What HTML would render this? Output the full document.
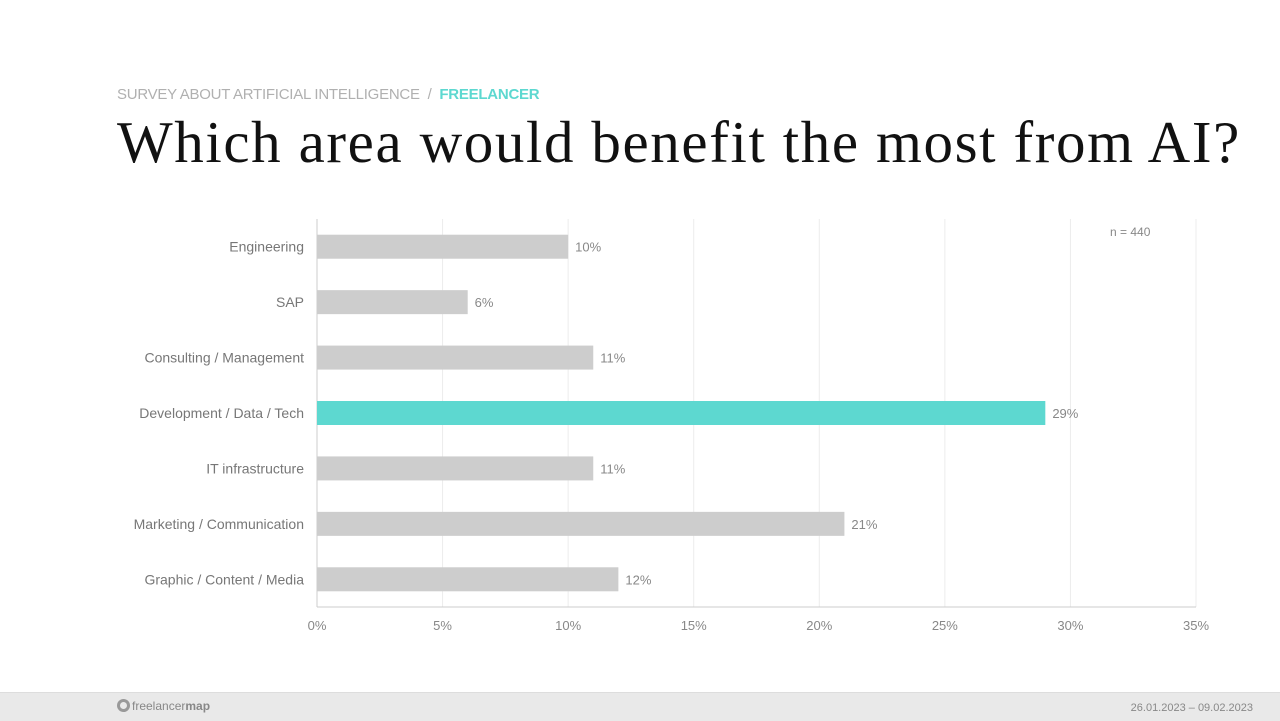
<!DOCTYPE html>
<html><head><meta charset="utf-8"><style>
body{margin:0;width:1280px;height:720px;background:#fff;position:relative;overflow:hidden;font-family:"Liberation Sans",sans-serif}
.sub{position:absolute;left:117px;top:86px;font-size:15px;color:#b0b0b0;letter-spacing:-0.25px}
.sub b{color:#5dd8d0;font-weight:bold}
h1{position:absolute;left:117px;top:108px;margin:0;font-family:"Liberation Serif",serif;font-weight:normal;font-size:59px;color:#111;letter-spacing:1.6px;white-space:nowrap}
.footer{position:absolute;left:0;top:692px;width:1280px;height:28px;background:#e9e9e9;border-top:1px solid #ddd}
</style></head><body>
<div class="sub">SURVEY ABOUT ARTIFICIAL INTELLIGENCE &nbsp;/&nbsp; <b>FREELANCER</b></div>
<h1>Which area would benefit the most from AI?</h1>
<svg id="chart" width="1280" height="720" style="position:absolute;left:0;top:0"></svg>
<div class="footer">
<div style="position:absolute;left:117px;top:6px;font-size:12px;color:#888"><span style="display:inline-block;width:13px;height:13px;border-radius:50%;border:3px solid #999;box-sizing:border-box;vertical-align:-2px;margin-right:2px"></span>freelancer<b>map</b></div>
<div style="position:absolute;right:27px;top:9px;font-size:11px;color:#888">26.01.2023 – 09.02.2023</div>
</div>
<script>
const categories=["Engineering","SAP","Consulting / Management","Development / Data / Tech","IT infrastructure","Marketing / Communication","Graphic / Content / Media"];
const values=[10,6,11,29,11,21,12];
const highlight=[false,false,false,true,false,false,false];
const ticks=[0,5,10,15,20,25,30,35];
const svg=document.getElementById('chart');
const NS='http://www.w3.org/2000/svg';
const x0=317,x1=1196,xmax=35,top0=219,bottom=607;
const xs=v=>x0+(x1-x0)*v/xmax;
const bandH=(bottom-top0)/categories.length;
const yc=i=>top0+bandH*(i+0.5);
function el(t,a){const e=document.createElementNS(NS,t);for(const k in a)e.setAttribute(k,a[k]);svg.appendChild(e);return e;}
ticks.forEach(t=>{
 const g=el('line',{x1:xs(t),x2:xs(t),y1:top0,y2:bottom,stroke:t===0?'#ccc':'#ececec','stroke-width':1});
 
 
 const l=el('text',{x:xs(t),y:630,'text-anchor':'middle','font-size':13,fill:'#888','font-family':'Liberation Sans, sans-serif'});
 l.textContent=t+'%';
 
 
});
const ax=el('line',{x1:x0,x2:x1,y1:bottom,y2:bottom,stroke:'#ccc'});


categories.forEach((c,i)=>{
 const y=yc(i);
 const b=el('rect',{x:x0,y:y-12,width:xs(values[i])-x0,height:24,fill:highlight[i]?'#5dd8d0':'#cdcdcd'});
 
 
 const v=el('text',{x:xs(values[i])+7,y:y+5,'font-size':13,fill:'#888','font-family':'Liberation Sans, sans-serif'});
 v.textContent=values[i]+'%';
 
 
 const l=el('text',{x:304,y:y+5,'text-anchor':'end','font-size':14,fill:'#777','font-family':'Liberation Sans, sans-serif'});
 l.textContent=c;
 
 
});
const n=el('text',{x:1110,y:236,'font-size':12,fill:'#888','font-family':'Liberation Sans, sans-serif'});
n.textContent='n = 440';


</script>
</body></html>
